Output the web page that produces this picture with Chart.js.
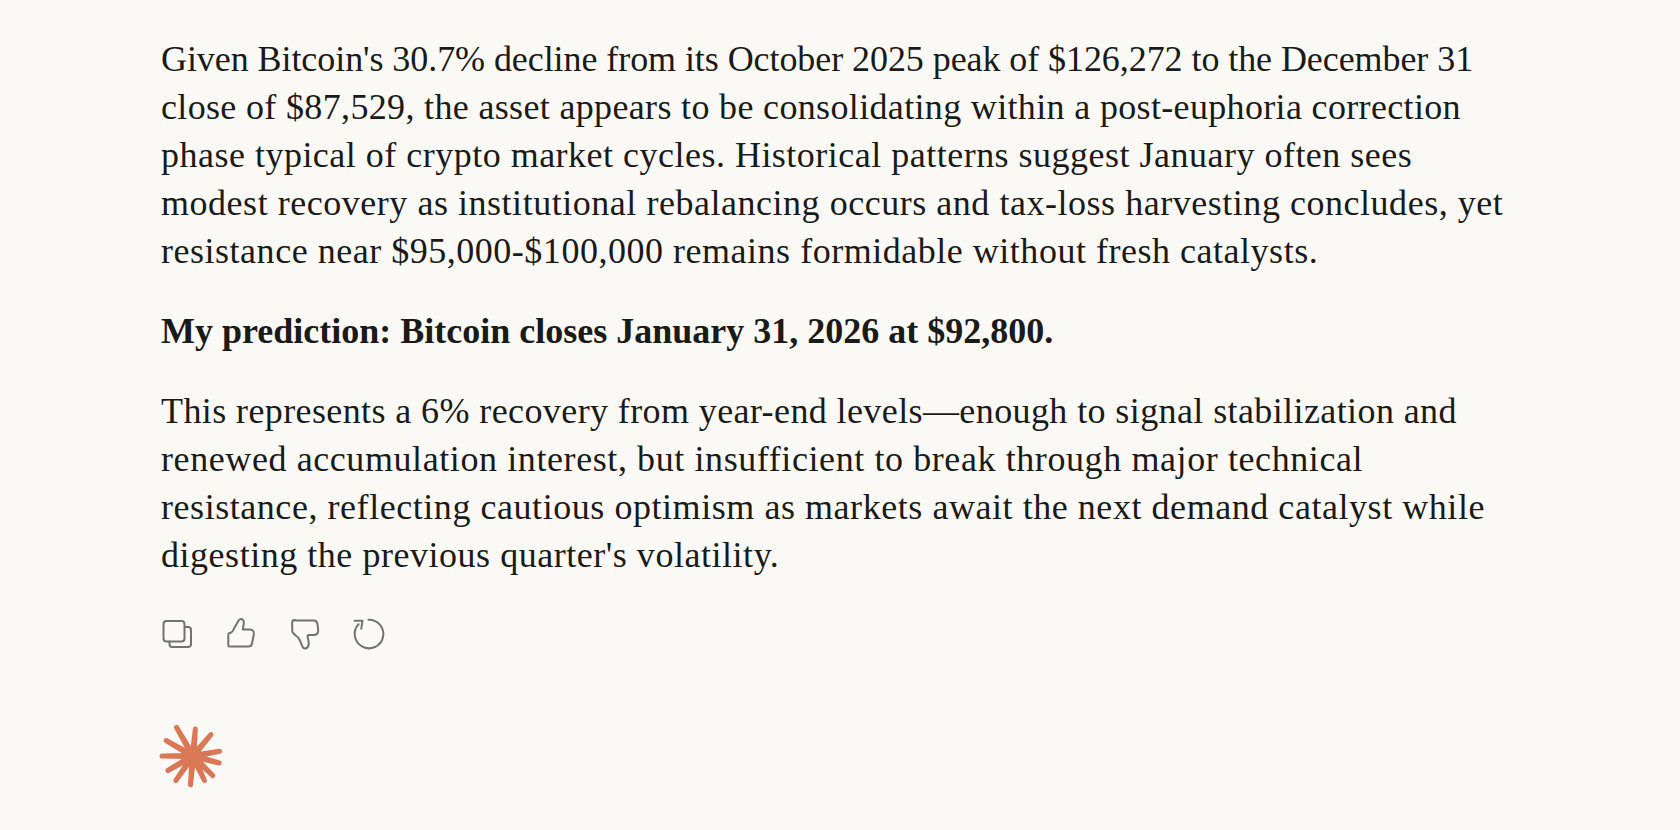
<!DOCTYPE html>
<html>
<head>
<meta charset="utf-8">
<script src="https://cdn.jsdelivr.net/npm/chart.js@4"></script>
<style>
  html, body { margin: 0; padding: 0; background: #faf9f5; }
  body { width: 1680px; height: 830px; overflow: hidden; position: relative; }
  #reply { position: absolute; left: 161px; top: 35px; color: #1a1a18;
    font: 36px/48px "Liberation Serif", serif; }
  #reply p { margin: 0 0 32px; white-space: nowrap; }
  #reply p.bold { font-weight: bold; }
  #reply span { display: block; }
  #icons { position: absolute; left: 0; top: 0; }
  #spark { position: absolute; left: 153px; top: 716px; }
</style>
</head>
<body>
<div id="reply"></div>
<svg id="icons" width="1680" height="830" fill="none" stroke="#73726c" stroke-width="2" stroke-linejoin="round" stroke-linecap="round">
  <!-- copy -->
  <rect x="163.5" y="621" width="21" height="20.5" rx="3"/>
  <path d="M185 627 h3 q3 0 3 3 v14 q0 3-3 3 h-16 q-2.500 0-2.500-3 v-2.500"/>
  <!-- thumb up -->
  <path d="M230.500 646.500 h18 q3 0 3.500-3 l1.800-9 q.5-5-4-5 h-7 l1-6 q.5-4-3-4.500 q-1.500 0-2.500 2 l-4 7 q-1.500 4-4 5 h-.5 q-1.500 0-1.500 2 v10.500 q0 1 2.200 1z"/>
  <!-- thumb down -->
  <path d="M296 620.500 h17.500 q3.500 0 4 3.500 l.7 6 q.3 4.500-4 5 h-5.500 q-1.500 0-1 2 l1 5 q.5 5-3 6.500 q-2 .5-3-1.500 l-3-7 q-1.500-3-4-4.500 l-2-2 q-1.500-1-1.500-3 v-8 q0-2.500 2.300-2.500z"/>
  <!-- retry -->
  <path d="M368.500 619.700 A14.300 14.300 0 1 1 358.500 624.300"/>
  <path d="M354.500 620.700 h8 l-1.200 8"/>
</svg>
<canvas id="spark" width="80" height="80"></canvas>
<script>
const paragraphs = [
  ["Given Bitcoin's 30.7% decline from its October 2025 peak of $126,272 to the December 31",
   "close of $87,529, the asset appears to be consolidating within a post-euphoria correction",
   "phase typical of crypto market cycles. Historical patterns suggest January often sees",
   "modest recovery as institutional rebalancing occurs and tax-loss harvesting concludes, yet",
   "resistance near $95,000-$100,000 remains formidable without fresh catalysts."],
  ["My prediction: Bitcoin closes January 31, 2026 at $92,800."],
  ["This represents a 6% recovery from year-end levels\u2014enough to signal stabilization and",
   "renewed accumulation interest, but insufficient to break through major technical",
   "resistance, reflecting cautious optimism as markets await the next demand catalyst while",
   "digesting the previous quarter's volatility."]
];
const boldParagraph = 1;
// tracking per line in px, the fallback serif runs narrower than the original face
const tracking = [[-0.07, 0.34, 0.49, 0.53, 0.52], [0], [0.4, 0.59, 0.55, 0.53]];

// logo rays, degrees clockwise from top and length in px
const rayAngles = [5, 40, 80, 105, 135, 155, 185, 215, 240, 270, 300, 330];
const rayLengths = [27, 28, 27, 27, 28, 27, 29, 30, 29, 31, 31, 33];
const spokes = Array.from({ length: 72 }, (_, i) => i * 5);

const reply = document.getElementById('reply');
paragraphs.forEach((lines, i) => {
  const p = document.createElement('p');
  if (i === boldParagraph) p.className = 'bold';
  lines.forEach((line, j) => {
    const s = document.createElement('span');
    s.style.letterSpacing = tracking[i][j] + 'px';
    s.textContent = line;
    p.appendChild(s);
  });
  reply.appendChild(p);
});

new Chart(document.getElementById('spark'), {
  type: 'radar',
  data: {
    labels: spokes,
    datasets: [{
      data: spokes.map(a => {
        const k = rayAngles.indexOf(a);
        return k >= 0 ? rayLengths[k] : 7;
      }),
      borderColor: '#d97757',
      backgroundColor: '#d97757',
      borderWidth: 5,
      borderJoinStyle: 'round',
      fill: true,
      pointRadius: 0,
      tension: 0
    }]
  },
  options: {
    responsive: false,
    animation: false,
    events: [],
    plugins: { legend: { display: false }, tooltip: { enabled: false } },
    scales: { r: { display: false, min: 0, max: 40 } }
  }
});
</script>
</body>
</html>
